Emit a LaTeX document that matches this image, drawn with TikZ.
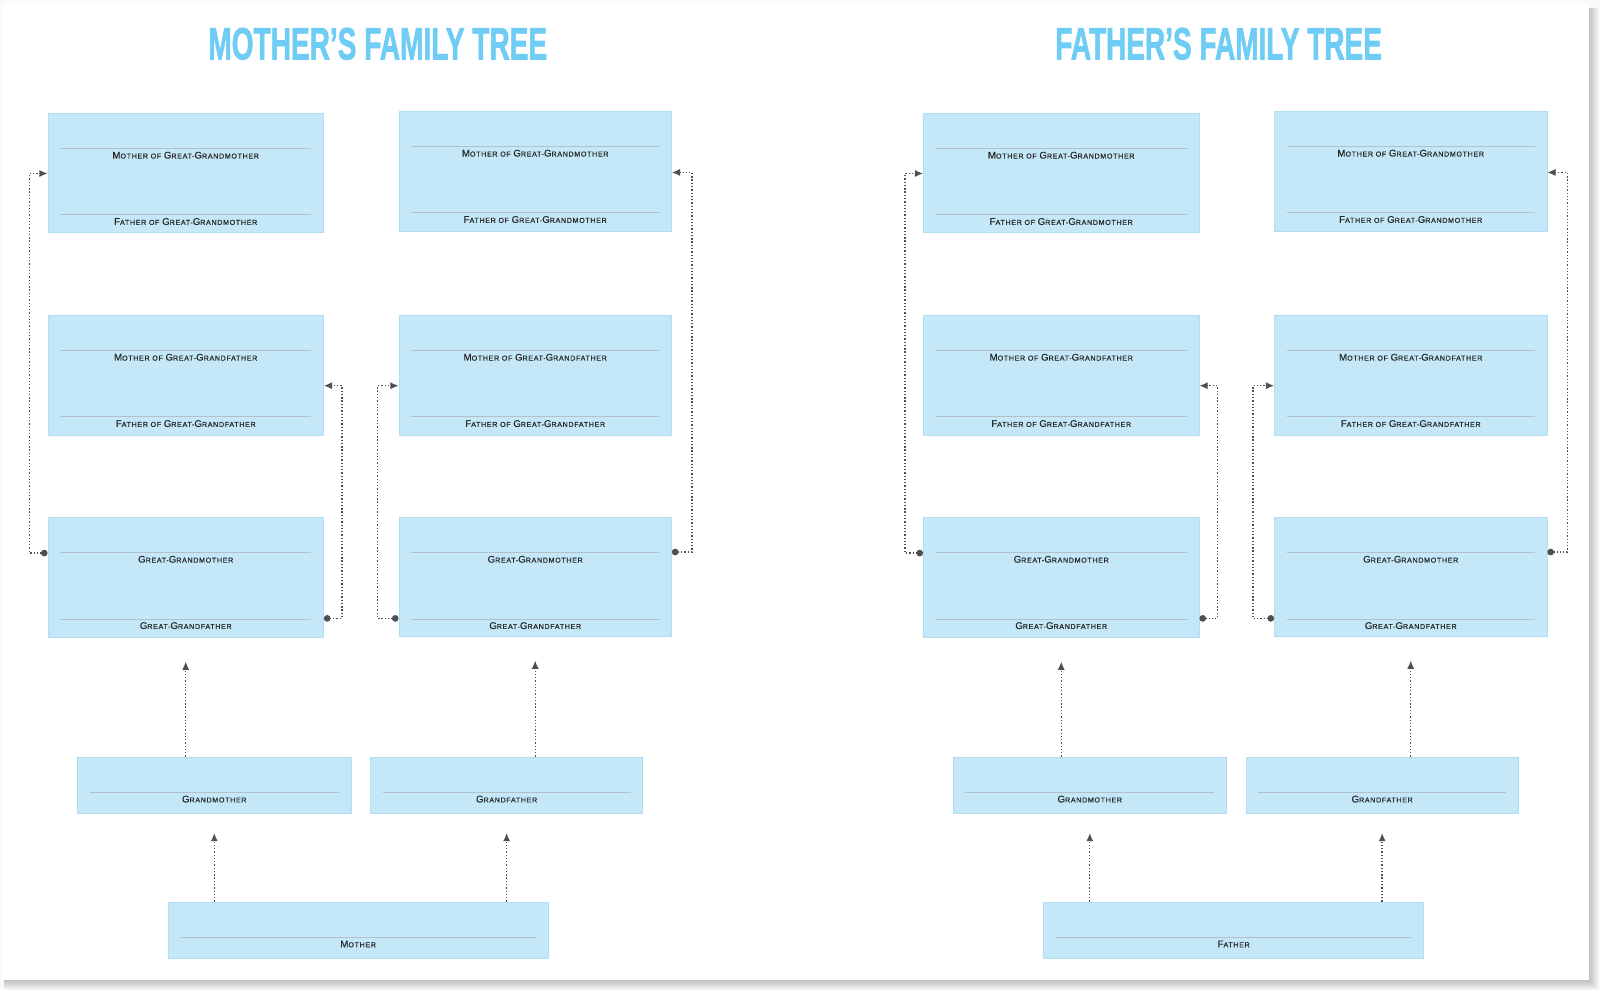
\documentclass[tikz,border=0pt]{standalone}
\usepackage{fontspec}
\setmainfont{Liberation Sans}
\newfontfamily\labfont[LetterSpace=9,FakeBold=0.5]{Liberation Sans}
\newfontfamily\titlefont[FakeBold=1.8]{Liberation Sans Bold}
\usetikzlibrary{arrows.meta,calc,fit}

\definecolor{titleblue}{RGB}{110,204,245}
\definecolor{cellfill}{RGB}{197,232,249}
\definecolor{celledge}{RGB}{178,222,245}
\definecolor{ruleline}{RGB}{178,192,202}
\definecolor{labtext}{RGB}{40,40,40}
\definecolor{connc}{RGB}{80,80,80}

\tikzset{
  famcell/.style={draw=celledge, fill=cellfill, line width=0.8pt, inner sep=0pt},
  rule/.style={draw=ruleline, line width=0.9pt},
  lab/.style={font=\labfont\fontsize{7}{8}\selectfont, text=labtext, inner sep=0pt, anchor=center},
  conn/.style={draw=connc, line width=1.3pt, dash pattern=on 1.3pt off 1.9pt},
  linkarrow/.style={conn, {Circle[length=6.5pt]}-{Latex[length=8pt,width=7pt]}},
  uparrow/.style={conn, -{Latex[length=8pt,width=7pt]}},
  titletext/.style={inner sep=0pt, anchor=north west, text=titleblue, font=\titlefont}
}

\newcommand\Bc[1]{{\fontsize{9.5}{10}\selectfont #1}}

% name, corner1, corner2, upper label, lower label
\newcommand\tribox[5]{%
  \node[famcell, fit={(#2) (#3)}] (#1) {};
  \draw[rule] ($(#1.north west)+(12.5,35)$) -- ($(#1.north east)+(-12.5,35)$);
  \draw[rule] ($(#1.north west)+(12.5,100)$) -- ($(#1.north east)+(-12.5,100)$);
  \node[lab] (#1-t1) at ($(#1.north)+(0,41.5)$) {#4};
  \node[lab] (#1-t2) at ($(#1.north)+(0,106.5)$) {#5};
}
% name, corner1, corner2, label
\newcommand\onebox[4]{%
  \node[famcell, fit={(#2) (#3)}] (#1) {};
  \draw[rule] ($(#1.north west)+(12.5,35)$) -- ($(#1.north east)+(-12.5,35)$);
  \node[lab] (#1-t1) at ($(#1.north)+(0,41.5)$) {#4};
}

% prefix, parent label
\newcommand\famtree[2]{%
  \tribox{#1a1}{47,111}{317,228}{\Bc{M}OTHER OF \Bc{G}REAT-\Bc{G}RANDMOTHER}{\Bc{F}ATHER OF \Bc{G}REAT-\Bc{G}RANDMOTHER}
  \tribox{#1a2}{391,109}{658,227}{\Bc{M}OTHER OF \Bc{G}REAT-\Bc{G}RANDMOTHER}{\Bc{F}ATHER OF \Bc{G}REAT-\Bc{G}RANDMOTHER}
  \tribox{#1b1}{47,309}{317,427}{\Bc{M}OTHER OF \Bc{G}REAT-\Bc{G}RANDFATHER}{\Bc{F}ATHER OF \Bc{G}REAT-\Bc{G}RANDFATHER}
  \tribox{#1b2}{391,309}{658,427}{\Bc{M}OTHER OF \Bc{G}REAT-\Bc{G}RANDFATHER}{\Bc{F}ATHER OF \Bc{G}REAT-\Bc{G}RANDFATHER}
  \tribox{#1c1}{47,507}{317,625}{\Bc{G}REAT-\Bc{G}RANDMOTHER}{\Bc{G}REAT-\Bc{G}RANDFATHER}
  \tribox{#1c2}{391,507}{658,624}{\Bc{G}REAT-\Bc{G}RANDMOTHER}{\Bc{G}REAT-\Bc{G}RANDFATHER}
  \onebox{#1gm}{76,742}{344,797}{\Bc{G}RANDMOTHER}
  \onebox{#1gf}{363,742}{630,797}{\Bc{G}RANDFATHER}
  \onebox{#1p}{165,884}{537,939}{#2}
  % bracket connectors
  \draw[linkarrow] (#1c1.west |- 0,542) -- (29,542) -- (29,170) -- (#1a1.west |- 0,170);
  \draw[linkarrow] (#1c1.east |- 0,606) -- (335,606) -- (335,378) -- (#1b1.east |- 0,378);
  \draw[linkarrow] (#1c2.west |- 0,606) -- (370,606) -- (370,378) -- (#1b2.west |- 0,378);
  \draw[linkarrow] (#1c2.east |- 0,541) -- (678,541) -- (678,169) -- (#1a2.east |- 0,169);
  % upward arrows
  \draw[uparrow] (#1gm.north -| #1c1.south) -- ($(#1c1.south)+(0,23)$);
  \draw[uparrow] (#1gf.north -| #1c2.south) -- ($(#1c2.south)+(0,23)$);
  \draw[uparrow] (#1p.north -| #1gm.south) -- ($(#1gm.south)+(0,19)$);
  \draw[uparrow] (#1p.north -| #1gf.south) -- ($(#1gf.south)+(0,19)$);
}

\begin{document}
\begin{tikzpicture}[x=1pt,y=-1pt]
\useasboundingbox (0,0) rectangle (1568,970);
% page and its shadow
\fill[gray!4] (0,0) rectangle (1568,970);
\foreach \k in {1,...,10} {
  \fill[black,opacity=0.025] (4,8) rectangle (1557+\k,960+\k);
}
\fill[white] (2,3) rectangle (1557,960);

% titles
\node[titletext] (t1) at (204,27) {\resizebox{332pt}{31pt}{MOTHER’S FAMILY TREE}};
\node[titletext] (t2) at (1034,27) {\resizebox{320pt}{31pt}{FATHER’S FAMILY TREE}};

% trees
\famtree{m}{\Bc{M}OTHER}
\begin{scope}[xshift=858pt]
\famtree{f}{\Bc{F}ATHER}
\end{scope}
\end{tikzpicture}
\end{document}
